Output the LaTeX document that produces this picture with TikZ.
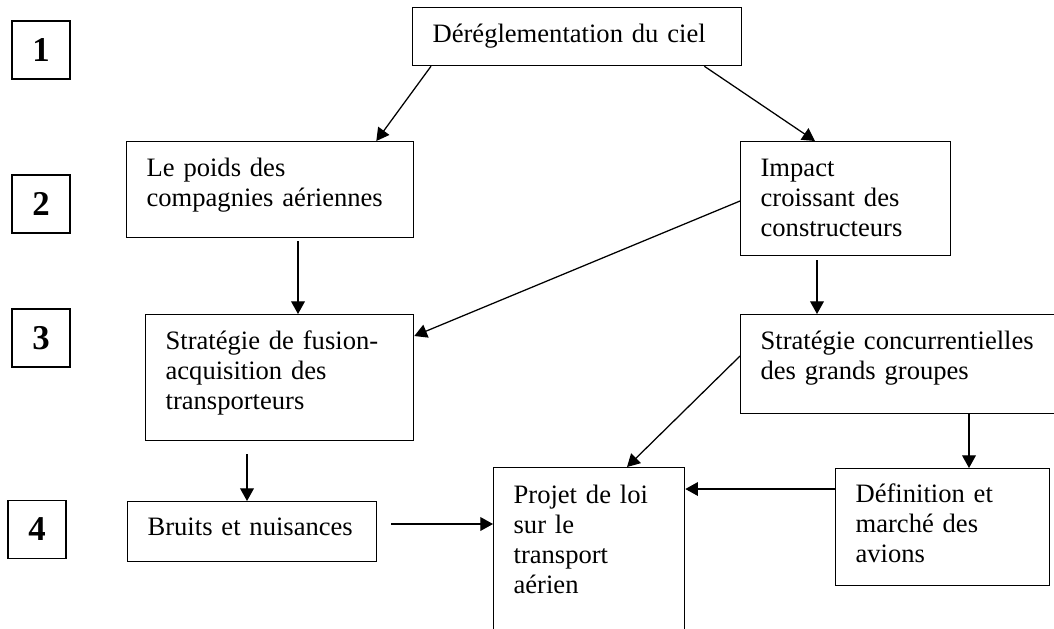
\documentclass[tikz,border=0pt]{standalone}
\usepackage{fontspec}
\setmainfont{Liberation Serif}
\usetikzlibrary{calc, arrows.meta}

\begin{document}
\begin{tikzpicture}[x=0.016667cm, y=-0.016667cm, line width=0.6pt, >={Triangle[length=6pt, width=6.5pt]}]
	\tikzstyle{box}=[draw, anchor=north west, inner xsep=0.333cm, inner ysep=0pt, align=left, text height=0.583cm, font=\fontsize{12.6}{14.2}\selectfont]
	\tikzstyle{numbox}=[draw, minimum size=0.967cm, inner sep=0pt, font=\fontsize{16.5}{18}\selectfont\bfseries]

	\useasboundingbox (0,0) rectangle (1054,628);
	\clip (0,0) rectangle (1054,628);

	% Level numbers on the left
	\node[numbox] (n1) at (41,50) {1};
	\node[numbox] (n2) at (41,204) {2};
	\node[numbox] (n3) at (41,338) {3};
	\node[numbox] (n4) at (37,529.5) {4};

	% Level 1 and 2
	\node[box, text width=4.817cm, text depth=0.383cm] (dereg) at (412,7) {D\'er\'eglementation du ciel};
	\node[box, text width=4.117cm, text depth=1.017cm] (poids) at (126,141) {Le poids des\\compagnies a\'eriennes};
	\node[box, text width=2.833cm, text depth=1.317cm] (impact) at (740,141) {Impact\\croissant des\\constructeurs};

	% Level 3
	\node[box, text width=3.8cm, text depth=1.517cm] (fusion) at (145,314) {Strat\'egie de fusion-\\acquisition des\\transporteurs};
	\node[box, text width=4.833cm, text depth=1.067cm] (concurr) at (740,314) {Strat\'egie concurrentielles\\des grands groupes};

	% Level 4
	\node[box, text width=3.483cm, text height=0.567cm, text depth=0.433cm] (bruits) at (127,501) {Bruits et nuisances};
	\node[box, text width=2.517cm, text height=0.6cm, text depth=2.617cm] (projet) at (493,467) {Projet de loi\\sur le\\transport\\a\'erien};
	\node[box, text width=2.9cm, text height=0.567cm, text depth=1.383cm] (def) at (835,468) {D\'efinition et\\march\'e des\\avions};

	% Connect the boxes
	\draw[->] ($(dereg.south west)+(19,0)$) -- ($(poids.north east)+(-38,0)$);
	\draw[->] ($(dereg.south east)+(-38,0)$) -- ($(impact.north west)+(75,0)$);
	\draw[->] ($(poids.south west)+(172,3)$) -- ($(fusion.north west)+(153,0)$);
	\draw[->] ($(impact.north west)+(0,60)$) -- ($(fusion.north east)+(0,22)$);
	\draw[->] ($(impact.south west)+(77,4)$) -- ($(concurr.north west)+(77,0)$);
	\draw[->] ($(concurr.north west)+(0,42)$) -- ($(projet.north west)+(134,0)$);
	\draw[->] ($(concurr.south west)+(229,0)$) -- ($(def.north west)+(134,0)$);
	\draw[->] ($(fusion.south west)+(102,13)$) -- ($(bruits.north west)+(120,0)$);
	\draw[->] ($(bruits.north east)+(14,23)$) -- ($(projet.north west)+(0,57)$);
	\draw[->] ($(def.north west)+(0,21)$) -- ($(projet.north east)+(0,22)$);
\end{tikzpicture}
\end{document}
